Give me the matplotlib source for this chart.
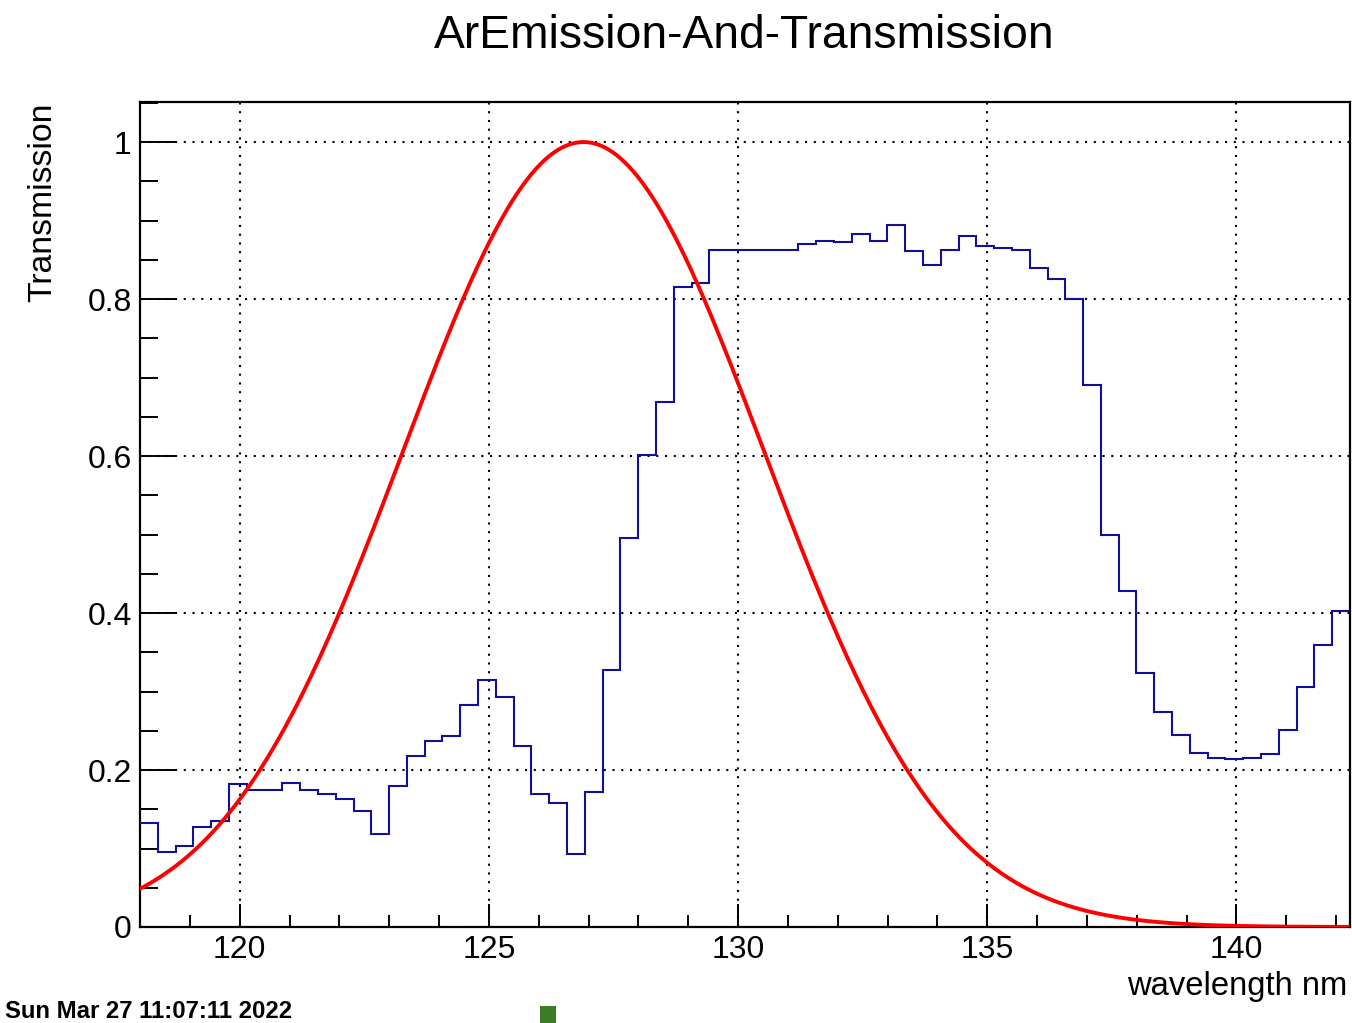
import numpy as np
import matplotlib
matplotlib.use("Agg")
from matplotlib import pyplot as plt
from matplotlib.ticker import MultipleLocator, FuncFormatter
from matplotlib.patches import Rectangle

plt.rcParams["font.family"] = ["Liberation Sans", "DejaVu Sans"]

# transmission histogram: 68 equal bins over the wavelength range
x_lo, x_hi = 118.0, 142.28
transmission = [
    0.132, 0.095, 0.103, 0.127, 0.135, 0.182, 0.174, 0.174, 0.183, 0.174,
    0.170, 0.163, 0.148, 0.119, 0.180, 0.218, 0.237, 0.243, 0.283, 0.315,
    0.293, 0.231, 0.170, 0.158, 0.093, 0.172, 0.327, 0.495, 0.601, 0.669,
    0.815, 0.820, 0.862, 0.863, 0.863, 0.862, 0.862, 0.870, 0.874, 0.873,
    0.883, 0.874, 0.894, 0.861, 0.843, 0.862, 0.880, 0.868, 0.865, 0.862,
    0.840, 0.825, 0.800, 0.690, 0.499, 0.428, 0.323, 0.274, 0.245, 0.222,
    0.215, 0.214, 0.215, 0.221, 0.251, 0.306, 0.359, 0.402,
]

# Ar emission line shape (gaussian)
em_amp = 1.0
em_mean = 126.9
em_sigma = 3.62

date_label = "Sun Mar 27 11:07:11 2022"

fig = plt.figure(figsize=(13.52, 10.23), dpi=100)
W, H = 1352.0, 1023.0
ax = fig.add_axes([140 / W, 1 - 927 / H, 1210 / W, 825 / H])

edges = np.linspace(x_lo, x_hi, len(transmission) + 1)
ax.stairs(transmission, edges, baseline=None, color="#10109a", linewidth=1.5, zorder=3)

xs = np.linspace(x_lo, x_hi, 600)
ys = em_amp * np.exp(-0.5 * ((xs - em_mean) / em_sigma) ** 2)
ax.plot(xs, ys, color="#ff0000", linewidth=2.8, zorder=4)

ax.set_xlim(x_lo, x_hi)
ax.set_ylim(0, 1.051)

ax.xaxis.set_major_locator(MultipleLocator(5))
ax.xaxis.set_minor_locator(MultipleLocator(1))
ax.yaxis.set_major_locator(MultipleLocator(0.2))
ax.yaxis.set_minor_locator(MultipleLocator(0.05))
ax.yaxis.set_major_formatter(FuncFormatter(lambda v, p: "%g" % round(v, 2)))
ax.xaxis.set_major_formatter(FuncFormatter(lambda v, p: "%g" % v))

ax.tick_params(axis="both", which="both", direction="in", top=False, right=False,
               width=1.4, colors="black", labelsize=23)
ax.tick_params(axis="x", which="major", length=16.5, pad=6)
ax.tick_params(axis="x", which="minor", length=8.5)
ax.tick_params(axis="y", which="major", length=25, pad=6)
ax.tick_params(axis="y", which="minor", length=13)

ax.grid(True, which="major", color="black", linestyle=(0, (1, 3.2)), linewidth=1.5)
ax.set_axisbelow(True)
for sp in ax.spines.values():
    sp.set_linewidth(1.6)

fig.text(744 / W, 1 - 36 / H, "ArEmission-And-Transmission", fontsize=33.3,
         ha="center", va="center")
fig.text(43 / W, 1 - 103 / H, "Transmission", fontsize=24.3, rotation=90,
         ha="center", va="top")
fig.text(1347 / W, 1 - 995 / H, "wavelength nm", fontsize=23.6,
         ha="right", va="baseline")
fig.text(5 / W, 1 - 1018 / H, date_label, fontsize=17.2, fontweight="bold",
         ha="left", va="baseline")

fig.patches.append(Rectangle((540 / W, 0), 16 / W, 17 / H, transform=fig.transFigure,
                             facecolor="#3d7a26", edgecolor="none"))

fig.savefig("out.png", dpi=100)
